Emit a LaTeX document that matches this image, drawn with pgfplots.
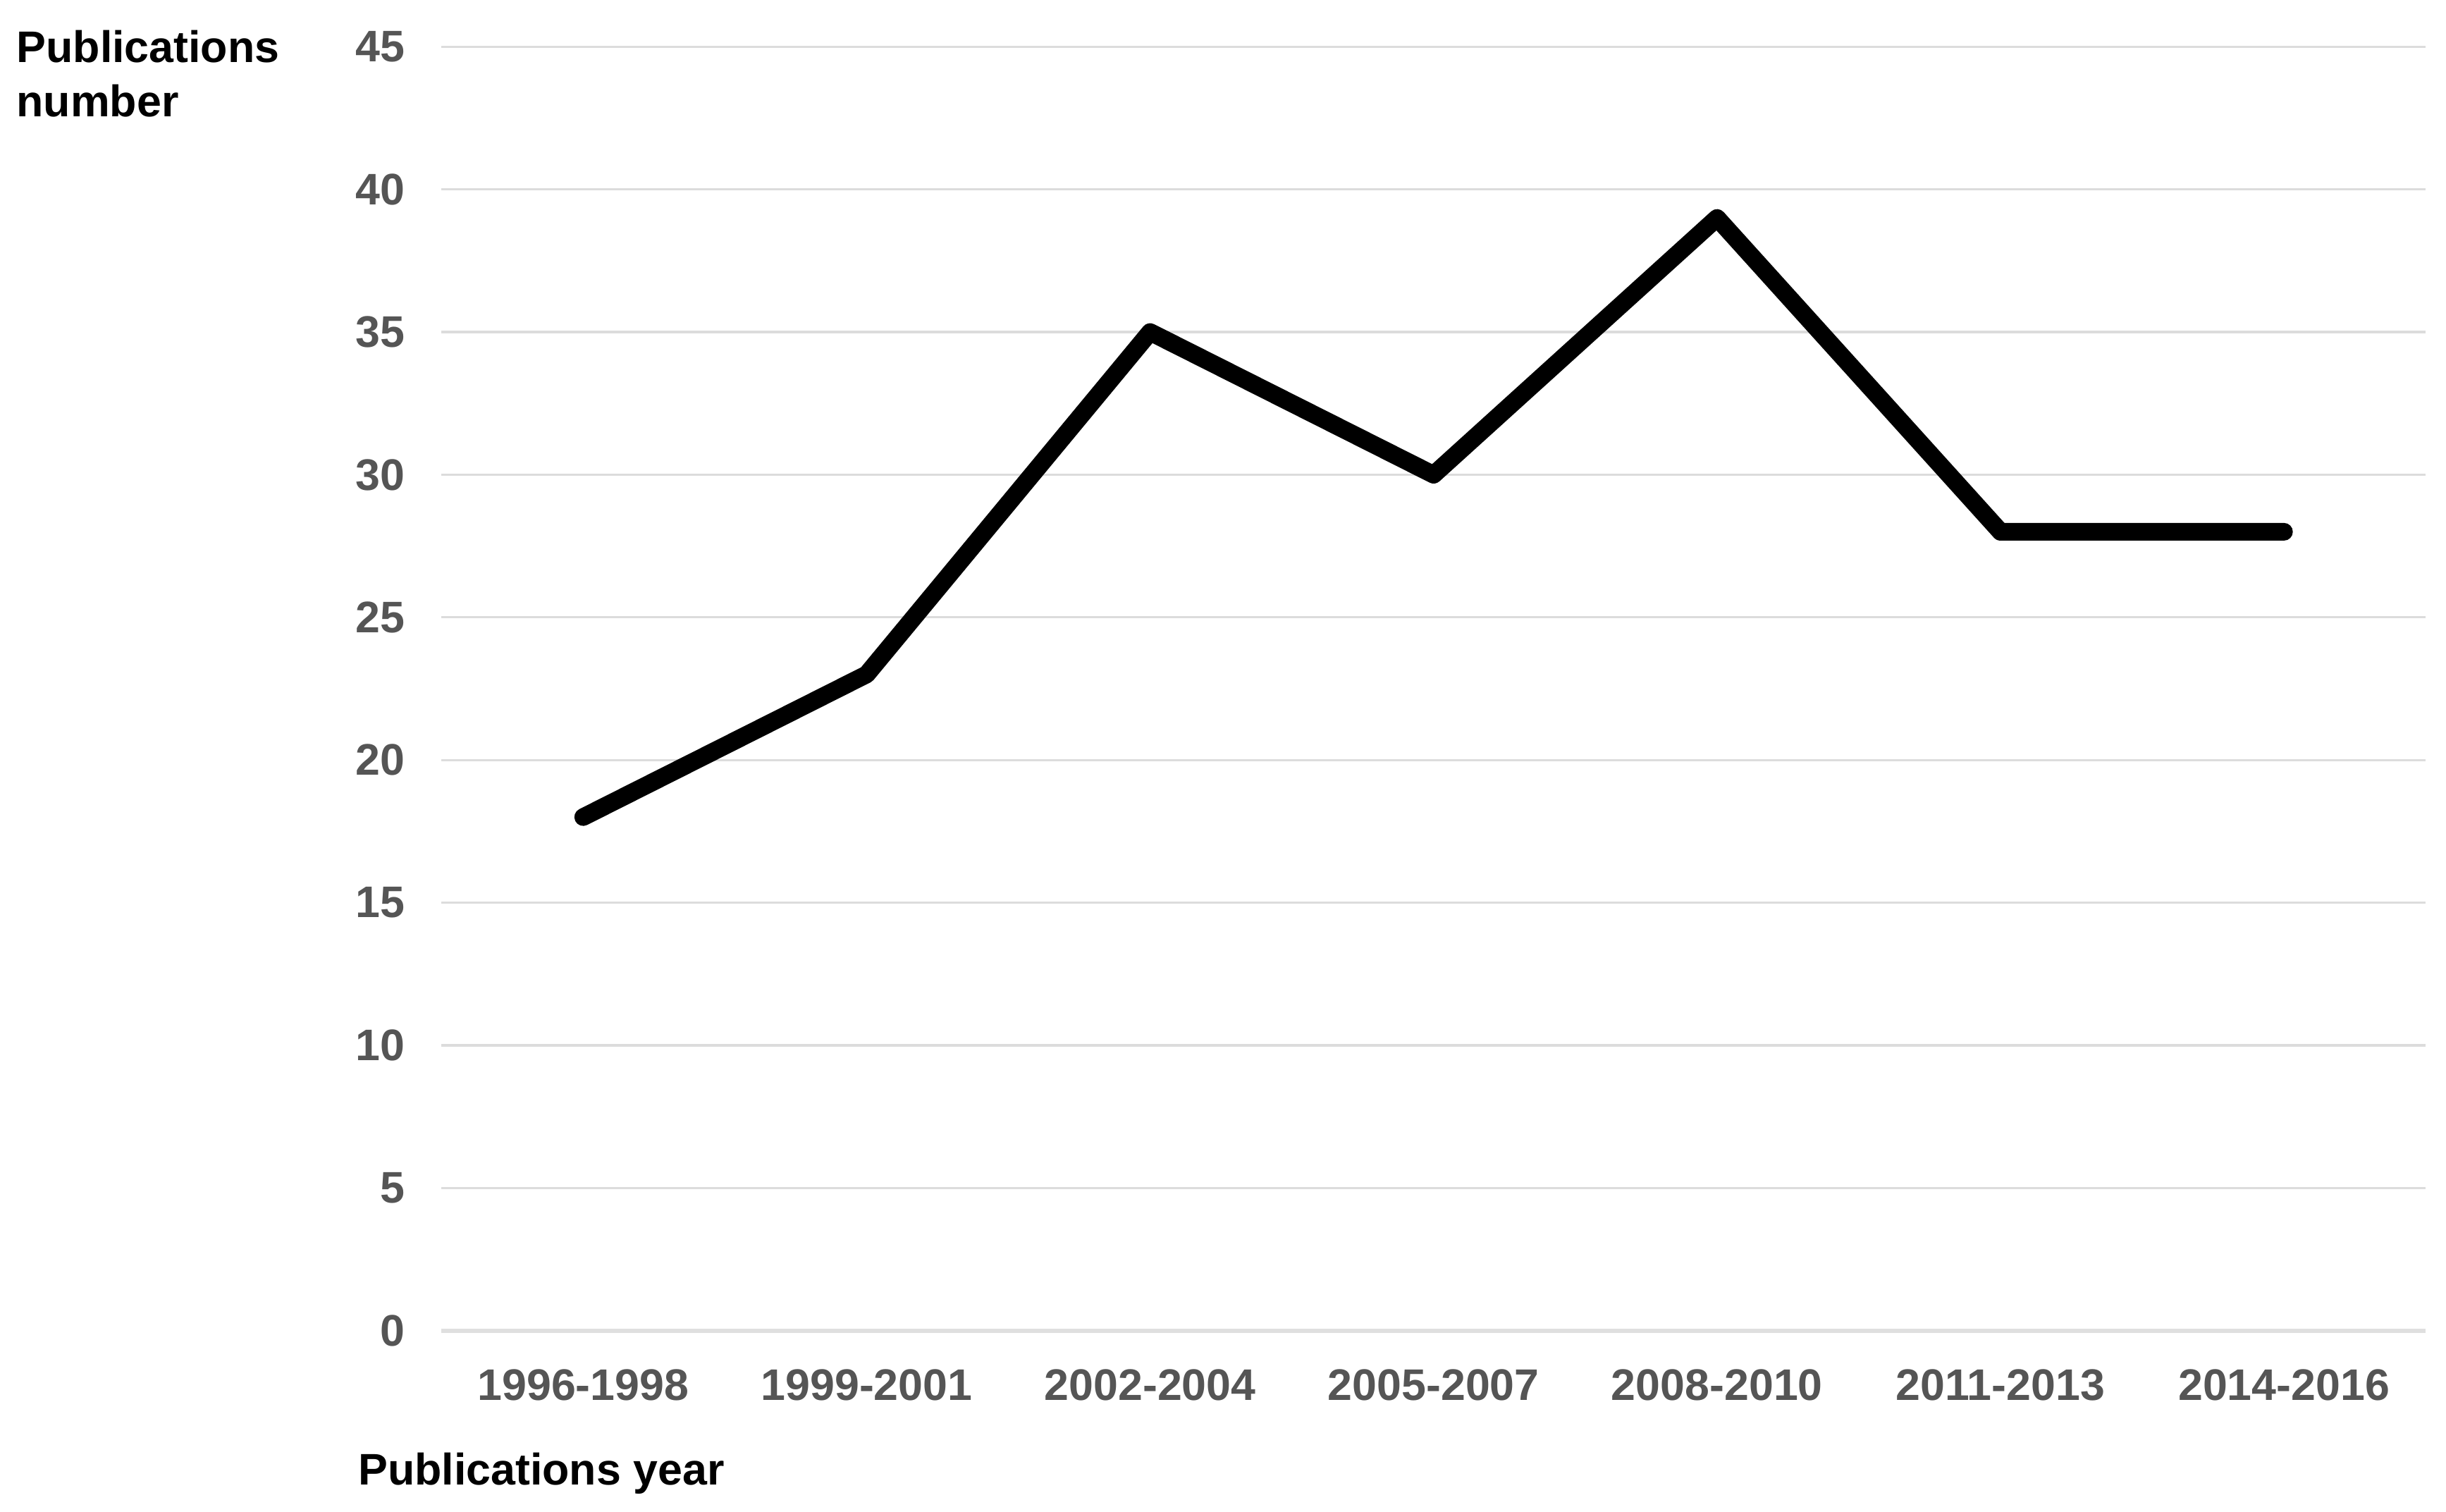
\documentclass[border=0pt]{standalone}
\usepackage{fontspec}
\setmainfont{Liberation Sans}
\usepackage{pgfplots}
\pgfplotsset{compat=1.18}
\definecolor{ticktext}{RGB}{85,85,85}
\definecolor{gridcol}{RGB}{220,220,220}

\begin{document}
\begin{tikzpicture}
\path[use as bounding box] (-84.9pt,-34.8pt) rectangle (385.5pt,255.9pt);
\begin{axis}[
  at={(0,0)}, anchor=south west,
  scale only axis,
  width=381.6pt, height=246.9pt,
  xmin=-0.5, xmax=6.5,
  ymin=0, ymax=45,
  xtick={0,1,2,3,4,5,6},
  xticklabels={1996-1998,1999-2001,2002-2004,2005-2007,2008-2010,2011-2013,2014-2016},
  ytick={5,10,15,20,25,30,35,40,45},
  extra y ticks={0},
  extra y tick style={grid style={gridcol!90!white, line width=0.8pt}},
  axis line style={draw=none},
  major tick length=0pt,
  ymajorgrids,
  grid style={gridcol, line width=0.45pt},
  /pgf/number format/assume math mode=true,
  tick label style={font=\fontsize{8.5}{10}\selectfont\bfseries, text=ticktext, inner sep=0pt},
  yticklabel style={anchor=east, xshift=-6.9pt},
  xticklabel style={anchor=north, yshift=-7.2pt},
  clip=false,
]
\addplot[black, line width=3.4pt, line join=round, line cap=round]
  coordinates {(0,18)(1,23)(2,35)(3,30)(4,39)(5,28)(6,28)};
\end{axis}
\node[anchor=base west, inner sep=0pt, font=\fontsize{8.5}{10}\selectfont\bfseries] at (-81.9pt,243.9pt) {Publications};
\node[anchor=base west, inner sep=0pt, font=\fontsize{8.5}{10}\selectfont\bfseries] at (-81.9pt,233.4pt) {number};
\node[anchor=base west, inner sep=0pt, font=\fontsize{8.5}{10}\selectfont\bfseries] at (-16.2pt,-29.6pt) {Publications year};
\end{tikzpicture}
\end{document}
